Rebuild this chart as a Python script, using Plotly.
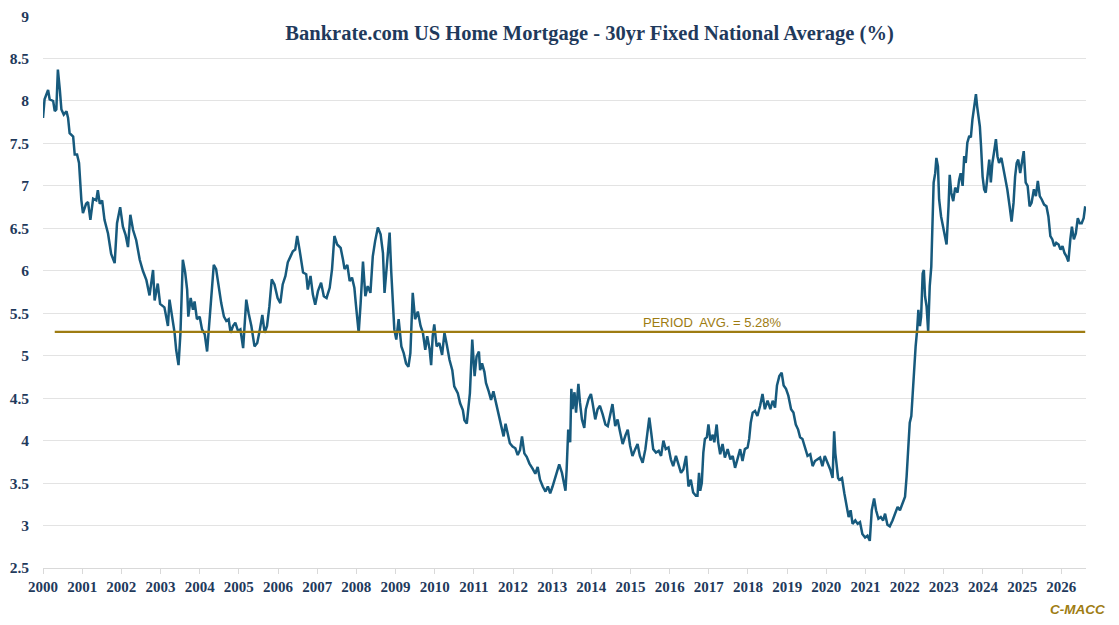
import plotly.graph_objects as go

# Bankrate 30yr fixed (decimal year, rate %)
years = [
    2000.00, 2000.04, 2000.13, 2000.17, 2000.26, 2000.30, 2000.34, 2000.38, 2000.43, 2000.47,
    2000.53, 2000.60, 2000.64, 2000.68, 2000.77, 2000.81, 2000.87, 2000.92, 2000.98,
    2001.02, 2001.10, 2001.15, 2001.21, 2001.28, 2001.36, 2001.40, 2001.45, 2001.51, 2001.57,
    2001.66, 2001.74, 2001.83, 2001.89, 2001.97,
    2002.04, 2002.11, 2002.17, 2002.23, 2002.30, 2002.38, 2002.47, 2002.55, 2002.64, 2002.72,
    2002.81, 2002.85, 2002.93, 2002.99,
    2003.10, 2003.19, 2003.23, 2003.32, 2003.36, 2003.40, 2003.46, 2003.51, 2003.57, 2003.63,
    2003.68, 2003.71, 2003.77, 2003.83, 2003.87, 2003.93,
    2004.00, 2004.06, 2004.13, 2004.19, 2004.25, 2004.31, 2004.36, 2004.42, 2004.48, 2004.55,
    2004.62, 2004.68, 2004.74, 2004.79, 2004.85, 2004.91, 2004.98,
    2005.04, 2005.11, 2005.19, 2005.25, 2005.32, 2005.40, 2005.47, 2005.53, 2005.60, 2005.66,
    2005.72, 2005.78, 2005.84, 2005.91, 2005.99,
    2006.06, 2006.12, 2006.19, 2006.25, 2006.32, 2006.38, 2006.44, 2006.49, 2006.55, 2006.58,
    2006.64, 2006.72, 2006.76, 2006.83, 2006.89, 2006.95,
    2007.02, 2007.10, 2007.17, 2007.24, 2007.32, 2007.38, 2007.44, 2007.51, 2007.60, 2007.66,
    2007.70, 2007.77, 2007.83, 2007.89, 2007.95, 2007.99,
    2008.06, 2008.11, 2008.17, 2008.23, 2008.29, 2008.36, 2008.42, 2008.48, 2008.55, 2008.62,
    2008.68, 2008.72, 2008.79, 2008.85, 2008.89, 2008.93, 2008.97,
    2009.02, 2009.08, 2009.15, 2009.21, 2009.27, 2009.33, 2009.38, 2009.44, 2009.50, 2009.57,
    2009.64, 2009.70, 2009.76, 2009.81, 2009.87, 2009.91, 2009.95, 2009.99,
    2010.05, 2010.12, 2010.19, 2010.25, 2010.31, 2010.38, 2010.45, 2010.50, 2010.59, 2010.65,
    2010.72, 2010.76, 2010.82, 2010.87, 2010.90, 2010.96,
    2011.02, 2011.07, 2011.13, 2011.16, 2011.21, 2011.27, 2011.31, 2011.38, 2011.44, 2011.50,
    2011.57, 2011.64, 2011.70, 2011.76, 2011.81, 2011.87, 2011.92, 2011.99,
    2012.06, 2012.12, 2012.18, 2012.23, 2012.29, 2012.35, 2012.42, 2012.50, 2012.57, 2012.63,
    2012.69, 2012.76, 2012.83, 2012.89, 2012.95,
    2013.01, 2013.08, 2013.14, 2013.18, 2013.25, 2013.31, 2013.34, 2013.37, 2013.41, 2013.46,
    2013.49, 2013.52, 2013.57, 2013.61, 2013.67, 2013.71, 2013.76, 2013.82, 2013.86, 2013.93,
    2013.99,
    2014.03, 2014.10, 2014.16, 2014.22, 2014.29, 2014.36, 2014.42, 2014.48, 2014.54, 2014.61,
    2014.67, 2014.73, 2014.80, 2014.87, 2014.93, 2014.99,
    2015.05, 2015.12, 2015.18, 2015.24, 2015.31, 2015.38, 2015.44, 2015.48, 2015.53, 2015.58,
    2015.65, 2015.72, 2015.78, 2015.84, 2015.90, 2015.97,
    2016.03, 2016.09, 2016.16, 2016.23, 2016.29, 2016.35, 2016.42, 2016.48, 2016.54, 2016.60,
    2016.67, 2016.71, 2016.75, 2016.78, 2016.82, 2016.86, 2016.90, 2016.95, 2016.99,
    2017.04, 2017.10, 2017.14, 2017.20, 2017.24, 2017.29, 2017.35, 2017.41, 2017.48, 2017.55,
    2017.61, 2017.67, 2017.73, 2017.80, 2017.86, 2017.92, 2017.99,
    2018.03, 2018.07, 2018.12, 2018.18, 2018.24, 2018.31, 2018.37, 2018.43, 2018.50, 2018.57,
    2018.63, 2018.69, 2018.74, 2018.80, 2018.86, 2018.91, 2018.97,
    2019.03, 2019.10, 2019.16, 2019.22, 2019.28, 2019.33, 2019.39, 2019.45, 2019.52, 2019.59,
    2019.65, 2019.71, 2019.77, 2019.84, 2019.90, 2019.96,
    2020.03, 2020.10, 2020.16, 2020.20, 2020.23, 2020.27, 2020.30, 2020.33, 2020.40, 2020.46,
    2020.52, 2020.57, 2020.62, 2020.67, 2020.74, 2020.80, 2020.86, 2020.92, 2020.99,
    2021.05, 2021.11, 2021.16, 2021.22, 2021.27, 2021.33, 2021.39, 2021.45, 2021.50, 2021.56,
    2021.62, 2021.69, 2021.76, 2021.82, 2021.88, 2021.94,
    2022.01, 2022.05, 2022.10, 2022.13, 2022.17, 2022.20, 2022.24, 2022.28, 2022.32, 2022.35,
    2022.39, 2022.42, 2022.46, 2022.49, 2022.52, 2022.56, 2022.60, 2022.64, 2022.68, 2022.71,
    2022.74, 2022.78, 2022.81, 2022.85, 2022.88, 2022.93, 2022.98,
    2023.03, 2023.07, 2023.12, 2023.15, 2023.19, 2023.24, 2023.29, 2023.35, 2023.39, 2023.43,
    2023.48, 2023.52, 2023.56, 2023.60, 2023.65, 2023.69, 2023.73, 2023.77, 2023.82, 2023.85,
    2023.88, 2023.92, 2023.95, 2023.99,
    2024.03, 2024.07, 2024.11, 2024.16, 2024.20, 2024.24, 2024.28, 2024.33, 2024.37, 2024.41,
    2024.47, 2024.51, 2024.56, 2024.62, 2024.68, 2024.73, 2024.78, 2024.82, 2024.86, 2024.90,
    2024.95, 2024.99,
    2025.04, 2025.09, 2025.14, 2025.19, 2025.24, 2025.30, 2025.35, 2025.40, 2025.45, 2025.50,
    2025.56, 2025.62, 2025.67, 2025.72, 2025.77, 2025.82, 2025.87, 2025.93, 2025.98,
    2026.03, 2026.08, 2026.13, 2026.18, 2026.23, 2026.27, 2026.32, 2026.37, 2026.42, 2026.47,
    2026.52, 2026.57, 2026.61,
]
rates = [
    7.80, 8.02, 8.13, 8.02, 8.00, 7.88, 7.90, 8.37, 8.13, 7.90,
    7.84, 7.88, 7.80, 7.62, 7.58, 7.37, 7.37, 7.27, 6.83,
    6.68, 6.79, 6.81, 6.60, 6.85, 6.83, 6.95, 6.79, 6.83, 6.60,
    6.44, 6.20, 6.09, 6.56, 6.75,
    6.52, 6.42, 6.28, 6.66, 6.48, 6.36, 6.13, 6.00, 5.89, 5.71,
    6.01, 5.65, 5.85, 5.61,
    5.57, 5.35, 5.66, 5.42, 5.27, 5.07, 4.89, 5.27, 6.13, 5.98,
    5.78, 5.46, 5.68, 5.54, 5.64, 5.43,
    5.46, 5.31, 5.25, 5.05, 5.43, 5.82, 6.07, 6.02, 5.82, 5.62,
    5.46, 5.41, 5.43, 5.27, 5.35, 5.39, 5.29,
    5.31, 5.09, 5.66, 5.50, 5.35, 5.11, 5.15, 5.29, 5.48, 5.27,
    5.35, 5.58, 5.90, 5.84, 5.68,
    5.62, 5.84, 5.94, 6.10, 6.17, 6.23, 6.25, 6.41, 6.25, 6.17,
    5.98, 5.96, 5.78, 5.94, 5.72, 5.60,
    5.76, 5.86, 5.70, 5.68, 5.80, 6.02, 6.41, 6.31, 6.27, 6.13,
    6.02, 6.07, 5.88, 5.92, 5.80, 5.60,
    5.27, 5.62, 6.11, 5.70, 5.82, 5.74, 6.17, 6.35, 6.51, 6.43,
    6.21, 5.74, 6.13, 6.45, 6.00, 5.58, 5.31,
    5.19, 5.43, 5.11, 5.03, 4.91, 4.87, 5.03, 5.74, 5.43, 5.52,
    5.35, 5.27, 5.07, 5.23, 5.08, 4.89, 5.23, 5.37,
    5.11, 5.15, 5.01, 5.27, 5.13, 4.95, 4.83, 4.64, 4.56, 4.44,
    4.36, 4.24, 4.20, 4.48, 4.56, 5.19,
    4.76, 4.99, 5.05, 4.83, 4.91, 4.81, 4.68, 4.58, 4.48, 4.58,
    4.44, 4.28, 4.17, 4.05, 4.20, 4.05, 3.97, 3.93,
    3.91, 3.83, 3.89, 4.05, 3.85, 3.81, 3.73, 3.67, 3.61, 3.69,
    3.54, 3.46, 3.40, 3.46, 3.38,
    3.46, 3.57, 3.67, 3.72, 3.62, 3.46, 3.41, 3.66, 4.13, 3.98,
    4.61, 4.37, 4.57, 4.33, 4.67, 4.45, 4.25, 4.15, 4.37, 4.49,
    4.55,
    4.45, 4.25, 4.37, 4.41, 4.31, 4.19, 4.17, 4.29, 4.43, 4.17,
    4.25, 4.11, 3.96, 4.06, 4.13, 3.94,
    3.82, 3.90, 3.96, 3.82, 3.74, 3.90, 4.13, 4.27, 4.09, 3.90,
    3.86, 3.88, 3.82, 4.00, 3.90, 3.92,
    3.78, 3.70, 3.82, 3.70, 3.62, 3.66, 3.82, 3.46, 3.54, 3.39,
    3.35, 3.35, 3.62, 3.41, 3.50, 3.86, 4.02, 4.04, 4.19,
    4.00, 4.07, 3.98, 4.19, 3.98, 3.84, 3.96, 3.80, 3.90, 3.78,
    3.82, 3.68, 3.78, 3.90, 3.76, 3.90, 3.92,
    4.02, 4.21, 4.33, 4.35, 4.29, 4.41, 4.55, 4.37, 4.47, 4.37,
    4.47, 4.39, 4.65, 4.76, 4.80, 4.65, 4.61,
    4.53, 4.37, 4.33, 4.19, 4.13, 4.04, 4.02, 3.94, 3.82, 3.84,
    3.70, 3.76, 3.78, 3.80, 3.70, 3.82,
    3.74, 3.66, 3.56, 4.11, 3.85, 3.70, 3.56, 3.54, 3.56, 3.38,
    3.22, 3.10, 3.18, 3.02, 3.06, 3.02, 3.04, 2.90, 2.86,
    2.88, 2.82, 3.18, 3.32, 3.18, 3.08, 3.10, 3.06, 3.14, 3.01,
    2.99, 3.06, 3.14, 3.22, 3.18, 3.26,
    3.34, 3.58, 3.93, 4.21, 4.29, 4.52, 4.88, 5.11, 5.31, 5.54,
    5.35, 5.46, 5.97, 6.01, 5.70, 5.58, 5.29, 5.82, 6.05, 6.45,
    7.04, 7.15, 7.33, 7.23, 6.84, 6.64, 6.52,
    6.37, 6.31, 6.76, 7.13, 6.92, 6.82, 6.98, 6.92, 7.07, 7.15,
    7.00, 7.35, 7.27, 7.51, 7.59, 7.57, 7.78, 7.90, 8.08, 7.94,
    7.82, 7.70, 7.47, 7.11,
    6.96, 6.92, 7.09, 7.31, 7.04, 7.27, 7.39, 7.55, 7.35, 7.27,
    7.33, 7.23, 7.11, 6.96, 6.76, 6.58, 6.80, 7.11, 7.27, 7.31,
    7.15, 7.27,
    7.41, 7.04, 7.00, 6.76, 6.80, 6.96, 6.88, 7.06, 6.88, 6.84,
    6.78, 6.76, 6.64, 6.41, 6.37, 6.29, 6.33, 6.31, 6.25,
    6.29, 6.21, 6.17, 6.11, 6.37, 6.52, 6.37, 6.44, 6.62, 6.56,
    6.56, 6.62, 6.76,
]

period_avg = 5.28
avg_start = 2000.3
year_ticks = list(range(2000, 2027))
y_ticks = [2.5, 3, 3.5, 4, 4.5, 5, 5.5, 6, 6.5, 7, 7.5, 8, 8.5, 9]

navy = "#1f3a5c"
gold = "#9e7c12"

fig = go.Figure()

fig.add_trace(go.Scatter(
    x=years, y=rates, mode="lines",
    line=dict(color="#175a7d", width=2.5),
    showlegend=False,
))

# period average line
fig.add_trace(go.Scatter(
    x=[avg_start, years[-1]], y=[period_avg, period_avg], mode="lines",
    line=dict(color=gold, width=2.2),
    showlegend=False,
))

fig.add_annotation(
    x=2017.1, y=period_avg, text="PERIOD  AVG. = %.2f%%" % period_avg,
    showarrow=False, yanchor="bottom", yshift=0,
    font=dict(family="Liberation Sans", size=13, color=gold),
)

fig.add_annotation(
    x=1.02, y=-0.076, xref="paper", yref="paper", xanchor="right", yanchor="middle",
    text="<b><i>C-MACC</i></b>", showarrow=False,
    font=dict(family="Liberation Sans", size=13.5, color=gold),
)

# page body has an 8px margin, so the figure is sized 8px smaller
fig.update_layout(
    width=1111, height=617,
    margin=dict(l=35, r=33, t=8, b=57),
    paper_bgcolor="white", plot_bgcolor="white",
    title=dict(
        text="Bankrate.com US Home Mortgage - 30yr Fixed National Average (%)",
        x=0.524, xref="paper", xanchor="center",
        y=0.96, yref="container", yanchor="middle",
        font=dict(family="Liberation Serif", size=20.5, color=navy, weight="bold"),
    ),
)

fig.update_xaxes(
    range=[2000, 2026.63], automargin=False,
    tickmode="array", tickvals=year_ticks, ticktext=[str(y) for y in year_ticks],
    showgrid=False, zeroline=False,
    showline=True, linecolor="#d9d9d9", linewidth=1,
    ticks="outside", ticklen=5, tickcolor="#d9d9d9",
    tickfont=dict(family="Liberation Serif", size=15, color=navy, weight="bold"),
)

fig.update_yaxes(
    range=[2.5, 9.001], automargin=False,
    tickmode="array", tickvals=y_ticks, ticktext=["%g" % v for v in y_ticks],
    showgrid=True, gridcolor="#e3e3e3", gridwidth=1, zeroline=False,
    ticks="", ticklabelstandoff=13, ticklabeloverflow="allow",
    tickfont=dict(family="Liberation Serif", size=15.5, color=navy, weight="bold"),
)

fig.write_html("out.html")
